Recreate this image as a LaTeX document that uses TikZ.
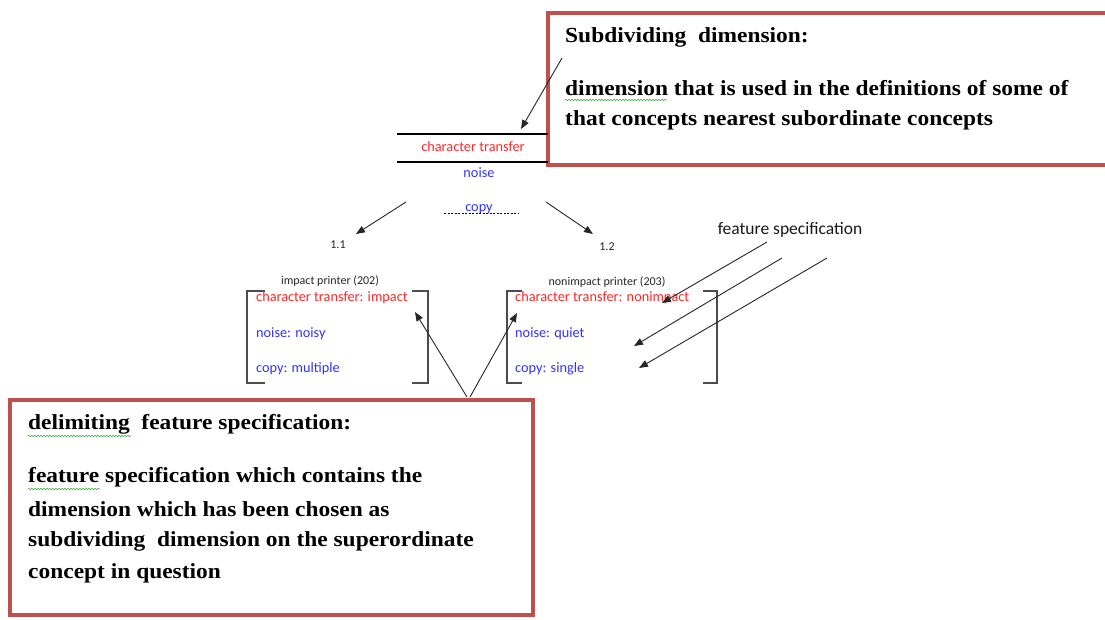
\documentclass[tikz,border=0pt]{standalone}
\usepackage{fontspec}
\setmainfont{Liberation Serif}
\newfontfamily\bigserif[FakeStretch=1.09]{Liberation Serif}
\newfontfamily\calib{Carlito}
\usetikzlibrary{arrows.meta,decorations.pathmorphing}
\definecolor{boxred}{RGB}{192,80,77}
\definecolor{tred}{RGB}{255,40,40}
\definecolor{tblue}{RGB}{50,50,255}
\definecolor{spell}{RGB}{60,170,60}
\tikzset{
  callout/.style={draw=boxred,line width=3.5pt},
  bigtxt/.style={anchor=west,inner sep=0pt,font=\bigserif\fontsize{21.5}{24}\selectfont\bfseries},
  smalltxt/.style={inner sep=0pt,font=\calib\fontsize{14.3}{16}\selectfont},
  labtxt/.style={inner sep=0pt,font=\calib\fontsize{12}{14}\selectfont,text=black!85},
  redtxt/.style={smalltxt,text=tred},
  bluetxt/.style={smalltxt,text=tblue},
  arr/.style={draw=black!85,line width=0.9pt,-{Triangle[length=9pt,width=7pt]}},
  brk/.style={draw=black!70,line width=1.3pt},
  squiggle/.style={draw=spell,line width=0.6pt,decorate,decoration={snake,amplitude=0.7pt,segment length=3pt}}
}
\begin{document}
\begin{tikzpicture}[x=1pt,y=-1pt]
\useasboundingbox (0,0) rectangle (1105,619);
\fill[white] (0,0) rectangle (1105,619);
\begin{scope}
\clip (0,0) rectangle (1105,619);
% top-right callout
\draw[callout] (548,13) rectangle (1115,165);
\end{scope}
\node[bigtxt] (subT) at (565,37) {Subdividing\ \ dimension:};
\node[bigtxt] (subL1) at (565,88) {dimension that is used in the definitions of some of};
\node[bigtxt] (subL2) at (565,120) {that concepts nearest subordinate concepts};
\draw[squiggle] (565,100) -- (667,100);

% bottom-left callout
\draw[callout] (10,400) rectangle (533,615);
\node[bigtxt] (delT) at (28,424) {delimiting\ \ feature specification:};
\node[bigtxt] (delL1) at (28,477) {feature specification which contains the};
\node[bigtxt] (delL2) at (28,509) {dimension which has been chosen as};
\node[bigtxt] (delL3) at (28,541) {subdividing\ \ dimension on the superordinate};
\node[bigtxt] (delL4) at (28,573) {concept in question};
\draw[squiggle] (28,436) -- (131,436);
\draw[squiggle] (28,489) -- (100,489);

% central top concept
\coordinate (lineTL) at (397,134);
\coordinate (lineTR) at (548,134);
\coordinate (lineBL) at (397,162);
\coordinate (lineBR) at (548,162);
\draw[line width=1.6pt] (lineTL) -- (lineTR);
\draw[line width=1.6pt] (lineBL) -- (lineBR);
\node[redtxt] (ct) at (473,147) {character transfer};
\node[bluetxt] (noise) at (479,173) {noise};
\coordinate (dotL) at (444,213);
\coordinate (dotR) at (518,213);
\draw[line width=1pt,dash pattern=on 2pt off 1.5pt] (dotL) -- (dotR);
\node[bluetxt] (copy) at (479,209) {copy};

% arrow from top callout
\coordinate (subA) at (562,58);
\coordinate (subB) at (521,129);
\draw[arr] (subA) -- (subB);

% branches
\coordinate (brL0) at (406,202);
\coordinate (brL1) at (356,234);
\coordinate (brR0) at (546,202);
\coordinate (brR1) at (593,234);
\draw[arr] (brL0) -- (brL1);
\draw[arr] (brR0) -- (brR1);
\node[labtxt] (n11) at (338,245) {1.1};
\node[labtxt] (n12) at (607,247) {1.2};

% impact printer
\node[labtxt] (ip) at (330,281) {impact printer (202)};
\draw[brk] (265,291) -- (247,291) -- (247,383) -- (265,383);
\draw[brk] (412,291) -- (428,291) -- (428,383) -- (412,383);
\node[redtxt,anchor=west] (ip1) at (256,298) {character transfer: impact};
\node[bluetxt,anchor=west] (ip2) at (256,334) {noise: noisy};
\node[bluetxt,anchor=west] (ip3) at (256,369) {copy: multiple};

% nonimpact printer
\node[labtxt] (np) at (607,282) {nonimpact printer (203)};
\draw[brk] (522,291) -- (507,291) -- (507,383) -- (522,383);
\draw[brk] (703,291) -- (717,291) -- (717,383) -- (703,383);
\node[redtxt,anchor=west] (np1) at (515,298) {character transfer: nonimpact};
\node[bluetxt,anchor=west] (np2) at (515,334) {noise: quiet};
\node[bluetxt,anchor=west] (np3) at (515,369) {copy: single};

% feature specification
\node[inner sep=0pt,font=\calib\fontsize{17.5}{20}\selectfont,text=black!90] (fs) at (790,230) {feature specification};
\coordinate (fsA1) at (767,242);
\coordinate (fsB1) at (662,303);
\coordinate (fsA2) at (782,258);
\coordinate (fsB2) at (634,346);
\coordinate (fsA3) at (827,258);
\coordinate (fsB3) at (639,368);
\draw[arr] (fsA1) -- (fsB1);
\draw[arr] (fsA2) -- (fsB2);
\draw[arr] (fsA3) -- (fsB3);

% arrows from bottom callout
\coordinate (delA1) at (467,397);
\coordinate (delB1) at (415,312);
\coordinate (delA2) at (470,397);
\coordinate (delB2) at (517,313);
\draw[arr] (delA1) -- (delB1);
\draw[arr] (delA2) -- (delB2);
\end{tikzpicture}
\end{document}
